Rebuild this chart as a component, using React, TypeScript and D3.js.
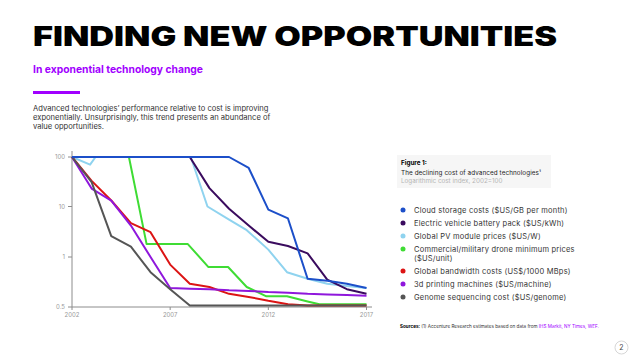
import * as d3 from "d3";

// yearly index values, 2002 = 100
type Pt = [number, number];

const years = [2002, 2007, 2012, 2017];
const yTicks = [0.5, 1, 10, 100];

const cloudStorage: Pt[] = [
  [2002, 100], [2003, 100], [2004, 100], [2005, 100], [2006, 100], [2007, 100],
  [2008, 100], [2009, 100], [2010, 100], [2011, 60], [2012, 8.7], [2013, 5.8],
  [2014, 0.74], [2015, 0.72], [2016, 0.69], [2017, 0.65],
];
const evBattery: Pt[] = [
  [2002, 100], [2003, 100], [2004, 100], [2005, 100], [2006, 100], [2007, 100],
  [2008, 100], [2009, 23.5], [2010, 9], [2011, 4.2], [2012, 2.0], [2013, 1.65],
  [2014, 1.18], [2015, 0.73], [2016, 0.64], [2017, 0.6],
];
const pvModule: Pt[] = [
  [2002, 100], [2002.92, 70], [2003.2, 100], [2004, 100], [2005, 100], [2006, 100],
  [2007, 100], [2008.05, 100], [2008.9, 10], [2010, 5.5], [2010.9, 3.4],
  [2012, 1.4], [2012.95, 0.81], [2014, 0.74], [2015, 0.69], [2016, 0.67], [2017, 0.65],
];
const drone: Pt[] = [
  [2002, 100], [2003, 100], [2004, 100], [2004.9, 100], [2005.8, 1.8], [2007, 1.8],
  [2007.9, 1.8], [2008.95, 0.87], [2009.95, 0.87], [2010.9, 0.66], [2011.9, 0.58],
  [2012.95, 0.58], [2014, 0.54], [2014.6, 0.52], [2015, 0.52], [2016, 0.52], [2017, 0.52],
];
const bandwidth: Pt[] = [
  [2002, 100], [2003, 33], [2004, 13.2], [2005, 4.7], [2006, 3.1], [2007, 0.9],
  [2008, 0.69], [2009, 0.66], [2010, 0.6], [2011, 0.575], [2012, 0.545], [2013, 0.52],
  [2014, 0.51], [2015, 0.51], [2016, 0.51], [2017, 0.51],
];
const printing3d: Pt[] = [
  [2002, 100], [2003, 23], [2004, 13.2], [2005, 4.2], [2006, 1.0], [2007, 0.65],
  [2008, 0.645], [2009, 0.64], [2010, 0.63], [2011, 0.625], [2012, 0.615],
  [2013, 0.61], [2014, 0.6], [2015, 0.595], [2016, 0.59], [2017, 0.585],
];
const genome: Pt[] = [
  [2002, 100], [2003, 31], [2004, 2.6], [2005, 1.6], [2006, 0.81], [2007, 0.64],
  [2008, 0.51], [2009, 0.51], [2010, 0.51], [2011, 0.51], [2012, 0.51], [2013, 0.51],
  [2014, 0.51], [2015, 0.51], [2016, 0.51], [2017, 0.51],
];

const seriesNames = [
  "Cloud storage costs ($US/GB per month)",
  "Electric vehicle battery pack ($US/kWh)",
  "Global PV module prices ($US/W)",
  "Commercial/military drone minimum prices|($US/unit)",
  "Global bandwidth costs (US$/1000 MBps)",
  "3d printing machines ($US/machine)",
  "Genome sequencing cost ($US/genome)",
];
const seriesData = [cloudStorage, evBattery, pvModule, drone, bandwidth, printing3d, genome];
const colors = ["#1c4fc9", "#3a0b5e", "#8fd3ef", "#3fdc34", "#dc1414", "#8f17dc", "#555555"];
// drawing order, back to front
const drawOrder = [2, 3, 4, 5, 6, 1, 0];

const accent = "#a100ff";
const font = "Inter, 'Noto Sans', sans-serif";

export default function App() {
  const x = d3.scaleLinear().domain([2002, 2017]).range([72, 366.5]);
  // the source axis gives equal space to 0.5-1, 1-10 and 10-100
  const y = d3.scaleLog().domain([0.5, 1, 10, 100]).range([307, 257, 206.5, 157]);

  const line = d3.line<Pt>().x(d => x(d[0])).y(d => y(d[1]));

  const legendY = [210, 223, 236, 249, 271, 284, 297];

  return (
    <div style={{ position: "fixed", left: 0, top: 0 }}>
      <svg width={638} height={359} style={{ display: "block", background: "#fff" }} fontFamily={font}>
        <text x={33} y={46} fontSize={27} fontWeight={900} fill="#000" textLength={524} lengthAdjust="spacingAndGlyphs">
          FINDING NEW OPPORTUNITIES
        </text>
        <text x={33} y={73} fontSize={10.5} fontWeight={700} fill={accent} textLength={170} lengthAdjust="spacingAndGlyphs">
          In exponential technology change
        </text>
        <rect x={33} y={91} width={47} height={3} fill={accent} />
        {[
          "Advanced technologies’ performance relative to cost is improving",
          "exponentially. Unsurprisingly, this trend presents an abundance of",
          "value opportunities.",
        ].map((t, i) => (
          <text key={i} x={33} y={111 + i * 9} fontSize={7.6} fill="#333">{t}</text>
        ))}

        {/* axes */}
        <g stroke="#8c8c8c" strokeWidth={1}>
          <line x1={72} x2={72} y1={151} y2={307} />
          <line x1={72} x2={372} y1={307} y2={307} />
          {yTicks.map(t => <line key={t} x1={68} x2={72} y1={y(t)} y2={y(t)} />)}
          {years.map(t => <line key={t} x1={x(t)} x2={x(t)} y1={307} y2={310} />)}
        </g>
        {yTicks.map(t => (
          <text key={t} x={65} y={y(t) + 2} fontSize={6} fill="#999" textAnchor="end">{t}</text>
        ))}
        {years.map(t => (
          <text key={t} x={x(t)} y={317} fontSize={6} fill="#999" textAnchor="middle">{t}</text>
        ))}

        {drawOrder.map(i => (
          <path key={i} d={line(seriesData[i]) || ""} fill="none" stroke={colors[i]} strokeWidth={2} strokeLinejoin="round" />
        ))}

        {/* figure box */}
        <rect x={397} y={155} width={154} height={33} fill="#f6f6f6" />
        <text x={401} y={164.5} fontSize={6.3} fontWeight={700} fill="#000">Figure 1:</text>
        <text x={401} y={174.5} fontSize={6.3} fill="#222" letterSpacing={0.1}>The declining cost of advanced technologies¹</text>
        <text x={401} y={183} fontSize={6.3} fill="#b5b5b5">Logarithmic cost index, 2002=100</text>

        {seriesNames.map((n, i) => (
          <g key={i}>
            <circle cx={403} cy={legendY[i]} r={2.5} fill={colors[i]} />
            {n.split("|").map((part, j) => (
              <text key={j} x={414} y={legendY[i] + 2.7 + j * 9} fontSize={7.5} fill="#333" letterSpacing={0.22}>{part}</text>
            ))}
          </g>
        ))}

        <text x={400} y={327.5} fontSize={4.6} fill="#333">
          <tspan fontWeight={700} fill="#000">Sources:</tspan>
          <tspan> (1) Accenture Research estimates based on data from </tspan>
          <tspan fill={accent}>IHS Markit, NY Times, WEF.</tspan>
        </text>

        <circle cx={621.5} cy={347.5} r={6.5} fill="none" stroke="#ccc" strokeWidth={0.8} />
        <text x={621.5} y={350} fontSize={7} fill="#444" textAnchor="middle">2</text>
      </svg>
    </div>
  );
}
